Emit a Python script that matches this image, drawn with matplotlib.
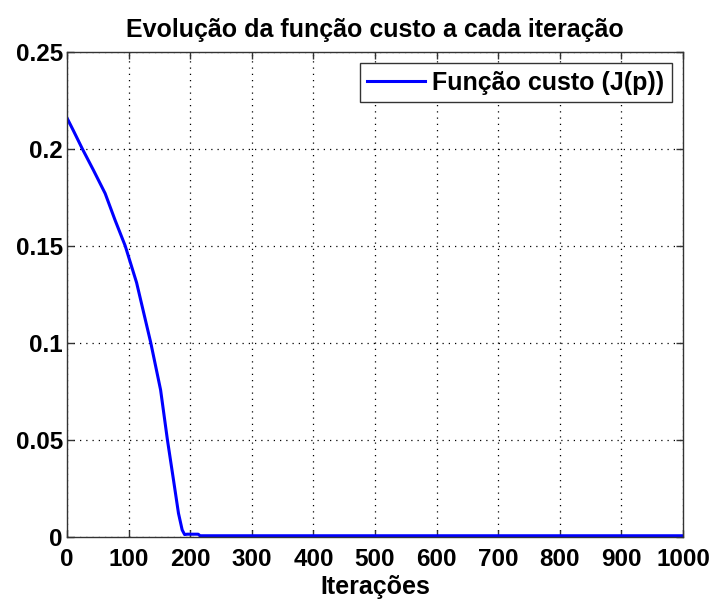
import matplotlib
matplotlib.use('Agg')
import matplotlib.pyplot as plt
import numpy as np

# Cost function values
iters = [0, 10, 25, 43, 62, 78, 94.5, 113, 136, 152, 163, 173, 181, 187, 191, 195, 213, 216, 1000]
cost = [0.216, 0.2097, 0.200, 0.189, 0.177, 0.1633, 0.150, 0.131, 0.100, 0.0756, 0.050, 0.029,
        0.012, 0.0034, 0.001, 0.0012, 0.0012, 0.0004, 0.0004]

xticks = [0, 100, 200, 300, 400, 500, 600, 700, 800, 900, 1000]
yticks = [0, 0.05, 0.1, 0.15, 0.2, 0.25]
ytick_labels = ['0', '0.05', '0.1', '0.15', '0.2', '0.25']

plt.rcParams['font.family'] = ['Liberation Sans', 'DejaVu Sans']
plt.rcParams['font.weight'] = 'bold'

fig = plt.figure(figsize=(7.11, 5.99), dpi=100)
ax = fig.add_axes([0.0942, 0.1043, 0.8664, 0.8089])

ax.plot(iters, cost, color='#0000ff', linewidth=2.2, label='Função custo (J(p))')

ax.set_xlim(0, 1000)
ax.set_ylim(0, 0.25)
ax.set_xticks(xticks)
ax.set_xticklabels([str(t) for t in xticks])
ax.set_yticks(yticks)
ax.set_yticklabels(ytick_labels)
ax.tick_params(direction='in', top=True, right=True, length=5, width=1, color='#333333',
               labelsize=17.5, pad=3)
ax.tick_params(axis='x', pad=8)
for lab in ax.get_xticklabels() + ax.get_yticklabels():
    lab.set_fontweight('bold')

ax.grid(True, color='black', linestyle=(0, (1, 4)), linewidth=0.9)
for s in ax.spines.values():
    s.set_color('#333333')
    s.set_linewidth(1)

ax.set_title('Evolução da função custo a cada iteração', fontsize=18, fontweight='bold', pad=11)
ax.set_xlabel('Iterações', fontsize=18, fontweight='bold', labelpad=3)

leg = ax.legend(loc='upper right', fontsize=18, fancybox=False, framealpha=1,
                edgecolor='#333333', handlelength=2.3, borderpad=0.3,
                borderaxespad=0.45, handletextpad=0.3)
leg.get_frame().set_linewidth(1)
for t in leg.get_texts():
    t.set_fontweight('bold')

fig.savefig('out.png', dpi=100)
